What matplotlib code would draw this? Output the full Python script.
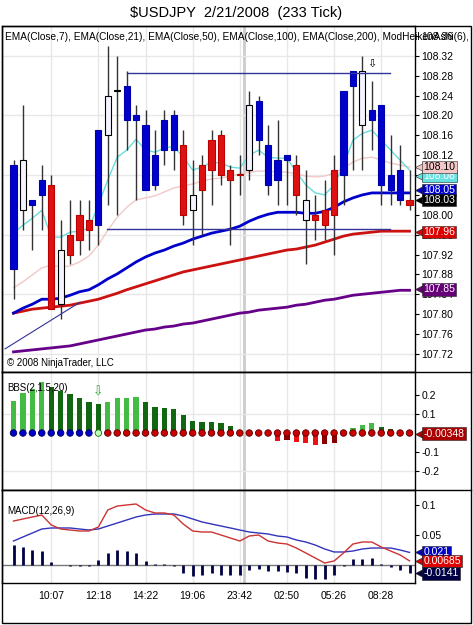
import numpy as np
import matplotlib
matplotlib.use('Agg')
import matplotlib.pyplot as plt
import matplotlib.transforms as mtransforms
from matplotlib.patches import Rectangle
from matplotlib.lines import Line2D

plt.rcParams['font.family'] = ['Liberation Sans', 'DejaVu Sans']

# ---- ModHeikenAshi bars (233 tick) ----
opens = [107.89, 108.01, 108.02, 108.04, 108.06, 107.82, 107.96, 108.00, 107.99, 107.98,
         108.16, 108.25, 108.19, 108.19, 108.05, 108.06, 108.13, 108.13, 108.14, 108.01,
         108.10, 108.15, 108.16, 108.09, 108.08, 108.09, 108.15, 108.06, 108.07, 108.11,
         108.10, 107.99, 108.00, 108.01, 108.09, 108.08, 108.26, 108.18, 108.19, 108.06,
         108.05, 108.03, 108.03]
closes = [108.10, 108.11, 108.03, 108.07, 107.81, 107.93, 107.92, 107.95, 107.97, 108.17,
          108.24, 108.25, 108.26, 108.20, 108.18, 108.12, 108.19, 108.20, 108.00, 108.04,
          108.05, 108.09, 108.08, 108.07, 108.08, 108.22, 108.23, 108.14, 108.11, 108.12,
          108.04, 108.03, 107.99, 107.98, 108.00, 108.25, 108.29, 108.29, 108.21, 108.22,
          108.08, 108.09, 108.02]
highs = [108.11, 108.22, 108.03, 108.10, 108.08, 107.99, 108.03, 108.03, 108.03, 108.17,
         108.34, 108.32, 108.29, 108.22, 108.21, 108.17, 108.21, 108.21, 108.17, 108.11,
         108.12, 108.17, 108.17, 108.10, 108.12, 108.25, 108.24, 108.18, 108.19, 108.12,
         108.12, 108.09, 108.04, 108.07, 108.12, 108.25, 108.29, 108.32, 108.27, 108.22,
         108.16, 108.14, 108.09]
lows = [107.83, 107.97, 107.93, 107.97, 107.81, 107.79, 107.90, 107.92, 107.93, 107.94,
        108.02, 108.00, 108.13, 108.03, 108.05, 108.05, 108.10, 108.09, 107.98, 107.94,
        107.96, 108.02, 108.06, 107.94, 108.04, 108.07, 108.12, 108.04, 108.02, 108.02,
        108.00, 107.90, 107.95, 107.95, 107.92, 108.02, 108.09, 108.09, 108.13, 108.02,
        108.02, 108.02, 108.01]
# b = blue, r = red, w = hollow
bar_kind = list('bwbbrwrrrb' 'wwbbbbbbrw' 'rrrrrwbbbb' 'rwrrrbbwbb' 'bbr')

ema7 = [107.963, 107.979, 107.993, 108.009, 107.955, 107.955, 107.965, 107.967, 107.973, 108.020,
        108.070, 108.116, 108.130, 108.152, 108.130, 108.126, 108.134, 108.138, 108.116, 108.090,
        108.096, 108.106, 108.104, 108.096, 108.094, 108.120, 108.130, 108.116, 108.114, 108.114,
        108.086, 108.060, 108.044, 108.040, 108.060, 108.100, 108.150, 108.164, 108.170, 108.150,
        108.130, 108.110, 108.090]
ema21 = [107.853, 107.865, 107.879, 107.893, 107.899, 107.895, 107.897, 107.905, 107.917, 107.939,
         107.969, 107.995, 108.015, 108.030, 108.034, 108.038, 108.046, 108.054, 108.058, 108.062,
         108.068, 108.072, 108.074, 108.078, 108.082, 108.086, 108.088, 108.088, 108.086, 108.086,
         108.082, 108.078, 108.076, 108.078, 108.084, 108.094, 108.106, 108.114, 108.116, 108.110,
         108.104, 108.100, 108.096]
ema50 = [107.802, 107.812, 107.820, 107.830, 107.830, 107.832, 107.838, 107.845, 107.849, 107.859,
         107.871, 107.881, 107.893, 107.905, 107.915, 107.923, 107.929, 107.937, 107.943, 107.951,
         107.957, 107.963, 107.967, 107.971, 107.977, 107.987, 107.995, 108.001, 108.005, 108.005,
         108.005, 108.003, 108.003, 108.007, 108.015, 108.026, 108.034, 108.040, 108.044, 108.044,
         108.044, 108.044, 108.044]
ema100 = [107.802, 107.806, 107.810, 107.812, 107.814, 107.816, 107.818, 107.822, 107.826, 107.830,
          107.836, 107.842, 107.849, 107.855, 107.861, 107.867, 107.873, 107.879, 107.885, 107.889,
          107.893, 107.897, 107.901, 107.905, 107.909, 107.913, 107.917, 107.921, 107.925, 107.929,
          107.931, 107.935, 107.939, 107.945, 107.951, 107.957, 107.961, 107.963, 107.965, 107.967,
          107.967, 107.967, 107.967]
ema200 = [107.724, 107.726, 107.728, 107.730, 107.732, 107.734, 107.736, 107.740, 107.744, 107.748,
          107.752, 107.756, 107.760, 107.764, 107.768, 107.770, 107.774, 107.776, 107.780, 107.782,
          107.786, 107.790, 107.794, 107.798, 107.802, 107.804, 107.808, 107.810, 107.812, 107.814,
          107.818, 107.820, 107.824, 107.828, 107.830, 107.834, 107.838, 107.840, 107.842, 107.844,
          107.846, 107.848, 107.848]

# drawn objects on the price panel
level_prices = [108.285, 107.971]
level_from = [12.0, 9.9]
level_to = [39.9, 39.9]
trend_x = [-0.9, 7.05]
trend_y = [107.730, 107.824]

# ---- BBS(2,1.5,20) ----
bbs = [0.167, 0.208, 0.229, 0.266, 0.240, 0.219, 0.203, 0.182, 0.160, 0.151,
       0.161, 0.182, 0.184, 0.188, 0.161, 0.135, 0.130, 0.125, 0.094, 0.063,
       0.057, 0.056, 0.050, 0.036, 0.004, 0.002, 0.001, -0.006, -0.040, -0.036,
       -0.047, -0.050, -0.061, -0.057, -0.052, 0.001, 0.026, 0.042, 0.050, 0.030,
       0.020, 0.003, -0.00348]
squeeze = list('bbbbbbbbbg' + 'r' * 33)

# ---- MACD(12,26,9) ----
macd = [0.0733, 0.0767, 0.0800, 0.0833, 0.0667, 0.0600, 0.0583, 0.0567, 0.0567, 0.0633,
        0.0917, 0.0983, 0.1000, 0.1017, 0.0917, 0.0867, 0.0867, 0.0833, 0.0683, 0.0567,
        0.0550, 0.0550, 0.0500, 0.0450, 0.0400, 0.0483, 0.0500, 0.0400, 0.0367, 0.0350,
        0.0283, 0.0200, 0.0117, 0.0033, 0.0067, 0.0200, 0.0350, 0.0383, 0.0383, 0.0300,
        0.0233, 0.0167, 0.00685]
signal = [0.0400, 0.0467, 0.0533, 0.0600, 0.0617, 0.0617, 0.0617, 0.0600, 0.0583, 0.0600,
          0.0650, 0.0700, 0.0750, 0.0800, 0.0833, 0.0850, 0.0850, 0.0850, 0.0817, 0.0767,
          0.0717, 0.0683, 0.0650, 0.0617, 0.0583, 0.0550, 0.0533, 0.0517, 0.0483, 0.0467,
          0.0417, 0.0383, 0.0333, 0.0267, 0.0217, 0.0217, 0.0233, 0.0267, 0.0283, 0.0283,
          0.0283, 0.0250, 0.021]
hist = [0.033, 0.030, 0.025, 0.024, 0.005, 0.000, -0.002, -0.002, -0.002, 0.008,
        0.020, 0.025, 0.024, 0.020, 0.007, 0.002, 0.001, -0.001, -0.013, -0.018,
        -0.017, -0.013, -0.016, -0.017, -0.016, -0.008, -0.006, -0.010, -0.010, -0.012,
        -0.014, -0.021, -0.023, -0.023, -0.016, -0.001, 0.010, 0.010, 0.012, 0.001,
        -0.004, -0.009, -0.0141]

tick_bars = [4, 9, 14, 19, 24, 29, 34, 39]
time_labels = ['10:07', '12:18', '14:22', '19:06', '23:42', '02:50', '05:26', '08:28']
session_break = 24.45

W, H = 473, 625
fig = plt.figure(figsize=(W / 100, H / 100), dpi=100)


def box(x0, y0, x1, y1):
    return [x0 / W, 1 - y1 / H, (x1 - x0) / W, (y1 - y0) / H]


ax = fig.add_axes(box(2, 26, 415, 372))
ax_bbs = fig.add_axes(box(2, 372, 415, 490))
ax_macd = fig.add_axes(box(2, 490, 415, 583))
x = np.arange(len(closes))

for a in (ax, ax_bbs, ax_macd):
    a.set_xlim(-1.22, 42.58)
    a.yaxis.tick_right()
    a.tick_params(axis='y', direction='out', length=3, width=0.8, labelsize=7.5, pad=1.5)
    a.tick_params(axis='x', length=0, labelbottom=False)
    for s in a.spines.values():
        s.set_linewidth(1)
        s.set_color('black')
    for b in tick_bars:
        a.axvline(b, color='#e8e8e8', lw=1, zorder=0)
    a.axvline(session_break, color='#cccccc', lw=2, zorder=0)


def tag(a, value, text, fc, tc):
    tr = mtransforms.blended_transform_factory(a.transAxes, a.transData)
    a.plot([1.011], [value], marker='<', ms=7, color=fc, mec='#222222', mew=0.4,
           transform=tr, clip_on=False, zorder=10)
    a.text(1.02, value, text, transform=tr, ha='left', va='center', fontsize=7.5, color=tc,
           bbox=dict(boxstyle='square,pad=0.12', fc=fc, ec='#222222', lw=0.4),
           clip_on=False, zorder=11)


# ---- price panel ----
ax.set_ylim(107.6835, 108.380)
price_ticks = np.round(np.arange(107.72, 108.37, 0.04), 2)
ax.set_yticks(price_ticks)
ax.set_yticklabels(['%.2f' % t for t in price_ticks])
for lv in [108.32, 108.20, 108.08, 107.96, 107.84, 107.72]:
    ax.axhline(lv, color='#e8e8e8', lw=1, zorder=0)

ax.plot(x, ema21, color='#f2c8c8', lw=1, zorder=1)
ax.plot(x, ema7, color='#66dddd', lw=1, zorder=1)
ax.plot(x, ema200, color='#660088', lw=2, zorder=1)
ax.plot(x, ema100, color='#cc1111', lw=2, zorder=1)
ax.plot(x, ema50, color='#0000cc', lw=2, zorder=1)

face = {'b': '#0000cc', 'r': '#dd1111', 'w': '#f4f4ff'}
edge = {'b': '#0000aa', 'r': '#bb0000', 'w': '#000000'}
for i in range(len(closes)):
    k = bar_kind[i]
    ax.vlines(i, lows[i], highs[i], color='#333333', lw=1, zorder=2)
    lo, hi = min(opens[i], closes[i]), max(opens[i], closes[i])
    ax.add_patch(Rectangle((i - 0.33, lo), 0.66, max(hi - lo, 0.0015),
                           fc=face[k], ec=edge[k], lw=0.8, zorder=3))

for lv, a0, a1 in zip(level_prices, level_from, level_to):
    ax.plot([a0, a1], [lv, lv], color='#333399', lw=1, zorder=4)
ax.plot(trend_x, trend_y, color='#333399', lw=0.8, zorder=4)
ax.text(38, 108.303, '\u21e9', ha='center', va='center', fontsize=8,
        family='DejaVu Sans', zorder=5)

ax.text(0.008, 0.968, 'EMA(Close,7), EMA(Close,21), EMA(Close,50), EMA(Close,100), '
        'EMA(Close,200), ModHeikenAshi(6),', transform=ax.transAxes, fontsize=7.3,
        ha='left', va='center', zorder=6)
ax.text(0.012, 0.026, '\u00a9 2008 NinjaTrader, LLC', transform=ax.transAxes, fontsize=7,
        ha='left', va='center')

tag(ax, 108.078, '108.08', '#66e0e0', 'white')
tag(ax, 108.096, '108.10', '#f4c8c8', 'black')
tag(ax, 108.05, '108.05', '#0000cc', 'white')
tag(ax, 108.03, '108.03', '#000000', 'white')
tag(ax, 107.965, '107.96', '#dd0000', 'white')
tag(ax, 107.85, '107.85', '#660077', 'white')

# ---- BBS panel ----
ax_bbs.set_ylim(-0.297, 0.318)
ax_bbs.set_yticks([0.2, 0.1, -0.1, -0.2])
ax_bbs.set_yticklabels(['0.2', '0.1', '-0.1', '-0.2'])
for lv in [0.1, -0.2]:
    ax_bbs.axhline(lv, color='#e8e8e8', lw=1, zorder=0)
bar_cols = []
prev = 0.0
for v in bbs:
    if v >= 0:
        bar_cols.append('#44bb44' if v >= prev else '#116611')
    else:
        bar_cols.append('#ee1111' if v <= prev else '#880000')
    prev = v
ax_bbs.bar(x, bbs, width=0.55, color=bar_cols, zorder=2)
dot_face = {'b': '#0000cc', 'g': '#bbffbb', 'r': '#cc0000'}
dot_edge = {'b': '#000055', 'g': '#116611', 'r': '#550000'}
ax_bbs.scatter(x, np.zeros(len(x)), s=22, c=[dot_face[s] for s in squeeze],
               edgecolors=[dot_edge[s] for s in squeeze], linewidths=0.6, zorder=4)
ax_bbs.text(9, 0.215, '\u21e9', ha='center', va='center', fontsize=9, color='#33aa33',
            family='DejaVu Sans')
ax_bbs.text(0.012, 0.864, 'BBS(2,1.5,20)', transform=ax_bbs.transAxes, fontsize=7,
            ha='left', va='center')
tag(ax_bbs, -0.00348, '-0.00348', '#aa0000', 'white')

# ---- MACD panel ----
ax_macd.set_ylim(-0.03, 0.125)
ax_macd.set_yticks([0.1, 0.05])
ax_macd.set_yticklabels(['0.1', '0.05'])
ax_macd.axhline(0, color='#777777', lw=1, zorder=1)
ax_macd.vlines(x, 0, hist, color='#000044', lw=2, zorder=2)
ax_macd.plot(x, signal, color='#3333bb', lw=1, zorder=3)
ax_macd.plot(x, macd, color='#cc3333', lw=1, zorder=3)
ax_macd.text(0.012, 0.774, 'MACD(12,26,9)', transform=ax_macd.transAxes, fontsize=7,
             ha='left', va='center')
tag(ax_macd, 0.021, '0.021', '#0000cc', 'white')
tag(ax_macd, 0.00685, '0.00685', '#dd0000', 'white')
tag(ax_macd, -0.0141, '-0.0141', '#000044', 'white')

ax_macd.set_xticks(tick_bars)
ax_macd.set_xticklabels(time_labels)
ax_macd.tick_params(axis='x', length=0, labelbottom=True, labelsize=7.5, pad=6)

# ---- frame & title ----
fig.add_artist(Rectangle((2 / W, 1 - 623 / H), 469 / W, 597 / H, transform=fig.transFigure,
                         fill=False, ec='black', lw=1))
for yy in (372, 490):
    fig.add_artist(Line2D([2 / W, 471 / W], [1 - yy / H] * 2, transform=fig.transFigure,
                          color='black', lw=1))
fig.text(0.5, 1 - 13 / H, '$USDJPY  2/21/2008  (233 Tick)', ha='center', va='center',
         fontsize=10.5, parse_math=False)

fig.savefig('out.png', dpi=100)
